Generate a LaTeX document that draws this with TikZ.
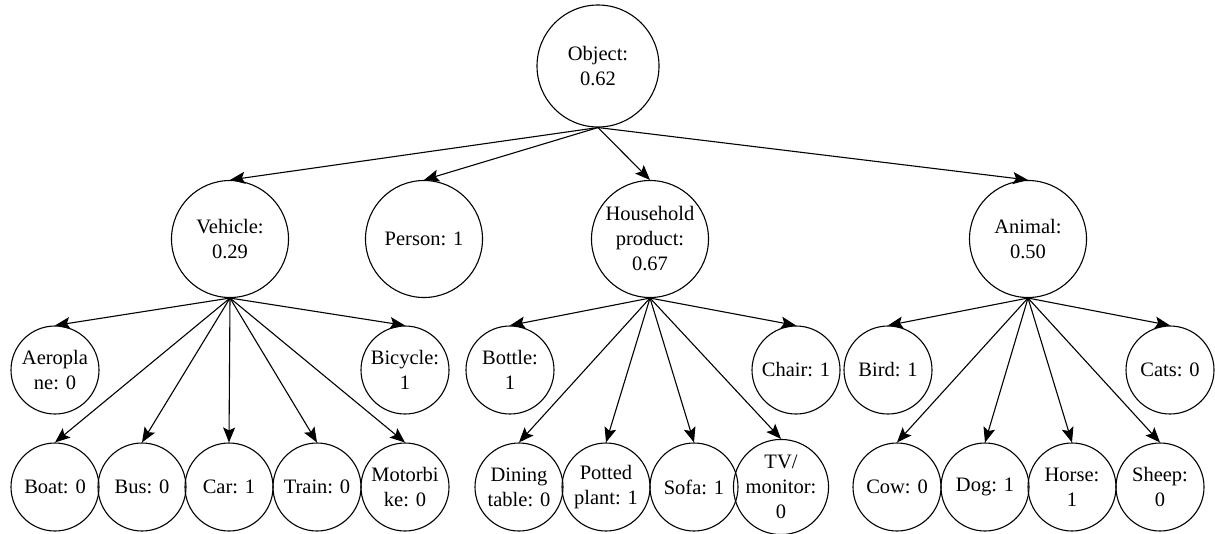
\documentclass[tikz,border=0pt]{standalone}
\usepackage{fontspec}
\setmainfont{Liberation Serif}
\newfontfamily\lserif{Liberation Serif}
\usetikzlibrary{arrows.meta}
\begin{document}
\begin{tikzpicture}[x=1pt,y=-1pt,
  big/.style={draw,circle,line width=1.1pt,minimum size=117pt,inner sep=0pt,align=center,font=\lserif\fontsize{20.5}{25}\selectfont},
  small/.style={draw,circle,line width=1.1pt,minimum size=88pt,inner sep=0pt,align=center,font=\lserif\fontsize{20.5}{25}\selectfont},
  arr/.style={line width=1.1pt,-{Stealth[length=15pt,width=12pt,inset=3pt]}}]
\useasboundingbox (0,0) rectangle (1215,533);
\node[big,minimum size=122pt] (obj) at (598,66) {Object:\\0.62};
\node[big] (veh) at (230,239) {Vehicle:\\0.29};
\node[big] (per) at (424,239) {Person: 1};
\node[big] (hou) at (650,239) {Household\\product:\\0.67};
\node[big] (ani) at (1028,239) {Animal:\\0.50};
% row 3
\node[small] (aer) at (55,370) {Aeropla\\ne: 0};
\node[small] (bic) at (405,370) {Bicycle:\\1};
\node[small] (bot) at (510,370) {Bottle:\\1};
\node[small] (cha) at (796,370) {Chair: 1};
\node[small] (bir) at (888,370) {Bird: 1};
\node[small] (cat) at (1170,370) {Cats: 0};
% row 4
\node[small] (boa) at (55,487) {Boat: 0};
\node[small] (bus) at (142,487) {Bus: 0};
\node[small] (car) at (229,487) {Car: 1};
\node[small] (tra) at (317,487) {Train: 0};
\node[small] (mot) at (405,487) {Motorbi\\ke: 0};
\node[small] (din) at (519,487) {Dining\\table: 0};
\node[small] (pot) at (606,487) {Potted\\plant: 1};
\node[small] (sof) at (694,487) {Sofa: 1};
\node[small] (tv) at (781,487) {TV/\\monitor:\\0};
\node[small] (cow) at (897,487) {Cow: 0};
\node[small] (dog) at (985,487) {Dog: 1};
\node[small] (hor) at (1072,487) {Horse:\\1};
\node[small] (she) at (1160,487) {Sheep:\\0};
% arrows
\foreach \c in {veh,per,hou,ani} \draw[arr] (obj.south) -- (\c.north);
\foreach \c in {aer,bic,boa,bus,car,tra,mot} \draw[arr] (veh.south) -- (\c.north);
\foreach \c in {bot,cha,din,pot,sof,tv} \draw[arr] (hou.south) -- (\c.north);
\foreach \c in {bir,cat,cow,dog,hor,she} \draw[arr] (ani.south) -- (\c.north);
\end{tikzpicture}
\end{document}
